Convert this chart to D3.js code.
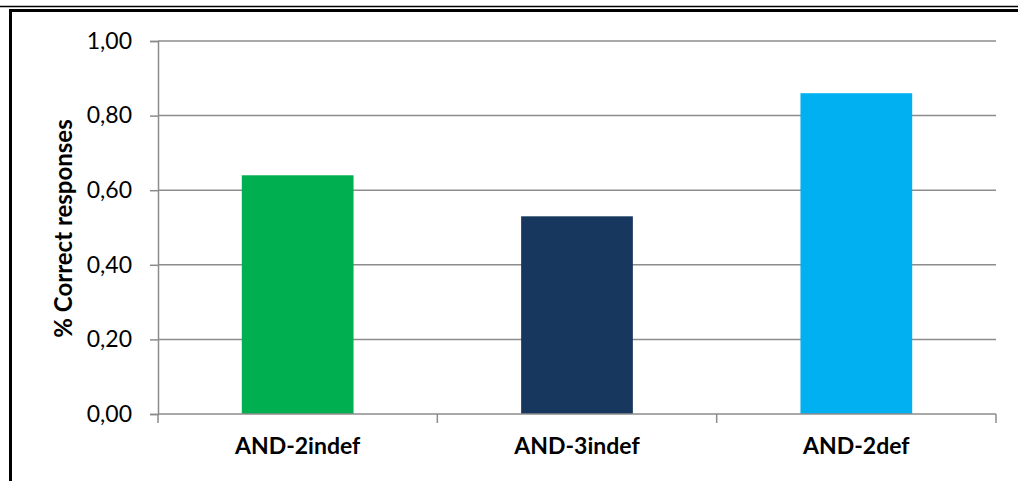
<!DOCTYPE html>
<html>
<head>
<meta charset="utf-8">
<script src="https://cdn.jsdelivr.net/npm/d3@7"></script>
<style>
  body { margin: 0; background: #fff; }
  svg { display: block; }
  .tick-label { font-family: Lato, "Open Sans", sans-serif; font-size: 23px; fill: #000; }
  .cat-label { font-family: Lato, "Open Sans", sans-serif; font-size: 23px; font-weight: bold; fill: #000; }
  .axis-title { font-family: Lato, "Open Sans", sans-serif; font-size: 24px; font-weight: bold; fill: #000; }
</style>
</head>
<body>
<div id="chart"></div>
<script>
// data
const categories = ['AND-2indef', 'AND-3indef', 'AND-2def'];
const values = [0.64, 0.53, 0.86];
const barColors = ['#00b050', '#17375e', '#00b0f0'];
const yTicks = [0, 0.2, 0.4, 0.6, 0.8, 1.0];

const width = 1018, height = 481;
const margin = { top: 41, right: 22, bottom: 67, left: 158 };
const innerW = width - margin.left - margin.right;
const innerH = height - margin.top - margin.bottom;

const svg = d3.select('#chart').append('svg')
  .attr('width', width)
  .attr('height', height);

// frame (cropped: top double line and thick left edge)
svg.append('line')
  .attr('x1', 0).attr('x2', width).attr('y1', 6.5).attr('y2', 6.5)
  .attr('stroke', '#000').attr('stroke-width', 1.5);
svg.append('line')
  .attr('x1', 9).attr('x2', width).attr('y1', 10.5).attr('y2', 10.5)
  .attr('stroke', '#000').attr('stroke-width', 3);
svg.append('line')
  .attr('x1', 10.5).attr('x2', 10.5).attr('y1', 9).attr('y2', height)
  .attr('stroke', '#000').attr('stroke-width', 3);

const g = svg.append('g')
  .attr('transform', `translate(${margin.left},${margin.top})`);

const x = d3.scaleBand()
  .domain(categories)
  .range([0, innerW])
  .paddingInner(0.6)
  .paddingOuter(0.3);

const y = d3.scaleLinear()
  .domain([0, 1])
  .range([innerH, 0]);

// gridlines
g.selectAll('.grid')
  .data(yTicks.filter(d => d > 0))
  .join('line')
  .attr('class', 'grid')
  .attr('x1', 0).attr('x2', innerW)
  .attr('y1', d => y(d)).attr('y2', d => y(d))
  .attr('stroke', '#8c8c8c')
  .attr('stroke-width', 1.5);

// y-axis
const yAxis = d3.axisLeft(y)
  .tickValues(yTicks)
  .tickSize(8)
  .tickPadding(18)
  .tickFormat(d => d3.format('.2f')(d).replace('.', ','));

const yAxisG = g.append('g').call(yAxis);
yAxisG.select('.domain').attr('stroke', '#8c8c8c').attr('stroke-width', 1.5);
yAxisG.selectAll('.tick line').attr('stroke', '#8c8c8c').attr('stroke-width', 1.5);
yAxisG.selectAll('.tick text').attr('class', 'tick-label').attr('font-family', null).attr('font-size', null);

// bars
g.selectAll('.bar')
  .data(values)
  .join('rect')
  .attr('class', 'bar')
  .attr('x', (d, i) => x(categories[i]))
  .attr('y', d => y(d))
  .attr('width', x.bandwidth())
  .attr('height', d => innerH - y(d))
  .attr('fill', (d, i) => barColors[i]);

// x-axis baseline and category boundary ticks
const step = x.step();
const xAxisG = g.append('g').attr('transform', `translate(0,${innerH})`);
xAxisG.append('line')
  .attr('x1', 0).attr('x2', innerW)
  .attr('stroke', '#8c8c8c').attr('stroke-width', 1.5);
xAxisG.selectAll('.xtick')
  .data(d3.range(categories.length + 1))
  .join('line')
  .attr('class', 'xtick')
  .attr('x1', i => i * step).attr('x2', i => i * step)
  .attr('y1', 0).attr('y2', 9)
  .attr('stroke', '#8c8c8c').attr('stroke-width', 1.5);

xAxisG.selectAll('.cat-label')
  .data(categories)
  .join('text')
  .attr('class', 'cat-label')
  .attr('x', d => x(d) + x.bandwidth() / 2)
  .attr('y', 32)
  .attr('dy', '0.35em')
  .attr('text-anchor', 'middle')
  .text(d => d);

// y-axis title
svg.append('text')
  .attr('class', 'axis-title')
  .attr('transform', `translate(64,${margin.top + innerH / 2 + 1}) rotate(-90)`)
  .attr('text-anchor', 'middle')
  .attr('dy', '0.35em')
  .text('% Correct responses');
</script>
</body>
</html>
